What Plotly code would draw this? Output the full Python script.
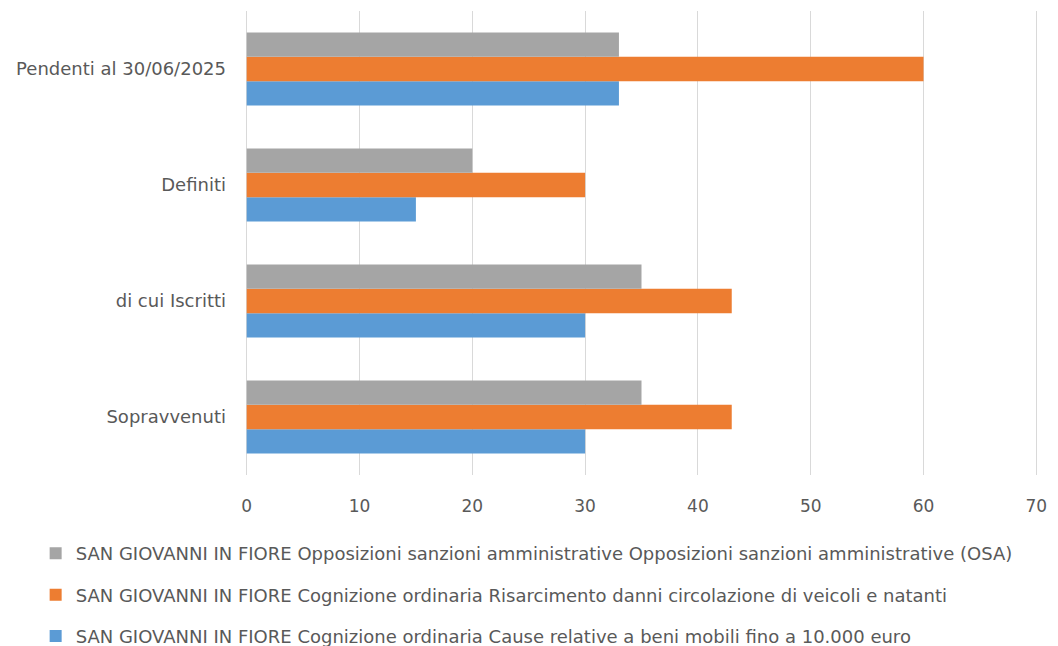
import plotly.graph_objects as go

categories = ["Sopravvenuti", "di cui Iscritti", "Definiti", "Pendenti al 30/06/2025"]
series_names = [
    "SAN GIOVANNI IN FIORE Cognizione ordinaria Cause relative a beni mobili fino a 10.000 euro",
    "SAN GIOVANNI IN FIORE Cognizione ordinaria Risarcimento danni circolazione di veicoli e natanti",
    "SAN GIOVANNI IN FIORE Opposizioni sanzioni amministrative Opposizioni sanzioni amministrative (OSA)",
]
blue_vals = [30, 30, 15, 33]
orange_vals = [43, 43, 30, 60]
gray_vals = [35, 35, 20, 33]
tick_vals = [0, 10, 20, 30, 40, 50, 60, 70]
colors = ["#5B9BD5", "#ED7D31", "#A5A5A5"]
ranks = [3, 2, 1]

fig = go.Figure()
for i, (name, vals) in enumerate(zip(series_names, [blue_vals, orange_vals, gray_vals])):
    fig.add_trace(go.Bar(
        y=categories, x=vals, orientation="h", name=name,
        marker=dict(color=colors[i], line=dict(width=0)),
        legendgroup=f"g{i}", legendrank=ranks[i],
    ))

font_family = "'DejaVu Sans', sans-serif"
fig.update_layout(
    width=1050, height=638,
    barmode="group", bargap=0.37, bargroupgap=0,
    plot_bgcolor="white", paper_bgcolor="white",
    margin=dict(l=237, r=20, t=3, b=171, autoexpand=False),
    font=dict(family=font_family, color="#595959", size=16),
    xaxis=dict(range=[-0.15, 70.15], tickvals=tick_vals, showgrid=True, gridcolor="#D9D9D9", gridwidth=1.3,
               zeroline=False, showline=False, ticks="", ticklabelstandoff=19,
               ticklabeloverflow="allow",
               tickfont=dict(size=17), automargin=False),
    yaxis=dict(type="category", showgrid=False, zeroline=False, showline=False,
               ticks="", ticklabelstandoff=18, tickfont=dict(size=18), automargin=False),
    legend=dict(orientation="v", x=-0.264, xanchor="left", y=-0.1295, yanchor="top",
                traceorder="grouped", tracegroupgap=15,
                font=dict(size=18, color="#595959"), itemwidth=30),
    showlegend=True,
)
fig.write_html("out.html")
